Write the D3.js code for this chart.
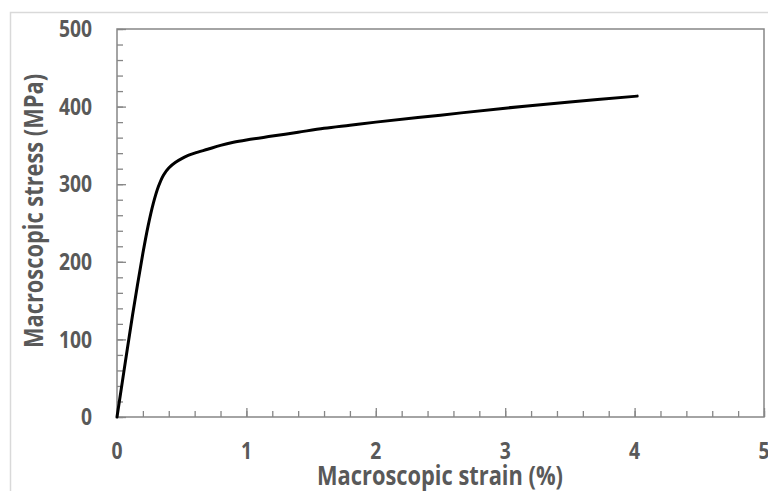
<!DOCTYPE html>
<html>
<head>
<meta charset="utf-8">
<script src="https://cdn.jsdelivr.net/npm/d3@7"></script>
<style>
  body { margin: 0; background: #fff; }
  text { font-family: "Open Sans", sans-serif; font-weight: bold; fill: #595959; }
</style>
</head>
<body>
<div id="main"></div>
<script>
// strain (%) vs stress (MPa)
const strain = [0, 0.04, 0.08, 0.12, 0.16, 0.2, 0.24, 0.28, 0.32, 0.36, 0.4, 0.45, 0.5, 0.55, 0.6, 0.7, 0.8, 0.9, 1.0, 1.2, 1.4, 1.6, 1.8, 2.0, 2.5, 3.0, 3.5, 4.02]
const stress = [0, 44, 88, 131, 172, 211, 246, 275, 297, 312, 321, 328, 333, 337, 340, 345, 350, 354, 357, 362, 367, 372, 376, 380, 389, 398, 406, 413.5]

const xTicks = [0, 1, 2, 3, 4, 5]
const yTicks = [0, 100, 200, 300, 400, 500]

const width = 768, height = 491
const margin = {left: 117, right: 4, top: 29, bottom: 74}
const squeeze = 0.84   // narrow the glyphs a bit, the original face is condensed

const svg = d3.select('#main').append('svg')
    .attr('width', width)
    .attr('height', height)

// light outer chart border
svg.append('path')
    .attr('d', 'M10.5,' + height + 'V12.5H' + width)
    .attr('fill', 'none')
    .attr('stroke', '#d9d9d9')
    .attr('stroke-width', 1.5)

const x = d3.scaleLinear().domain([0, 5]).range([margin.left, width - margin.right])
const y = d3.scaleLinear().domain([0, 500]).range([height - margin.bottom, margin.top])

const axisColor = '#868686'

// ticks, pointing inward
const xAxisMinor = d3.axisTop(x).tickValues(d3.range(0, 5.001, 0.2)).tickSize(6).tickFormat('')
const xAxisMajor = d3.axisTop(x).tickValues(xTicks).tickSize(9).tickFormat('')
const yAxisMinor = d3.axisRight(y).tickValues(d3.range(0, 500.1, 20)).tickSize(6).tickFormat('')
const yAxisMajor = d3.axisRight(y).tickValues(yTicks).tickSize(9).tickFormat('')

;[xAxisMinor, xAxisMajor].forEach(a => {
    svg.append('g').attr('transform', 'translate(0,' + y(0) + ')').call(a)
})
;[yAxisMinor, yAxisMajor].forEach(a => {
    svg.append('g').attr('transform', 'translate(' + x(0) + ',0)').call(a)
})
svg.selectAll('.tick line').attr('stroke', axisColor).attr('stroke-width', 1.3)
svg.selectAll('.domain').remove()

// frame
svg.append('rect')
    .attr('x', x(0)).attr('y', y(500))
    .attr('width', x(5) - x(0)).attr('height', y(0) - y(500))
    .attr('fill', 'none')
    .attr('stroke', axisColor)
    .attr('stroke-width', 1.5)

// tick labels
svg.append('g').selectAll('text')
    .data(yTicks).enter().append('text')
    .attr('transform', d => 'translate(' + (x(0) - 25) + ',' + y(d) + ') scale(' + squeeze + ',1)')
    .attr('dy', '0.36em')
    .attr('text-anchor', 'end')
    .style('font-size', '23px')
    .text(d => d)

svg.append('g').selectAll('text')
    .data(xTicks).enter().append('text')
    .attr('transform', d => 'translate(' + x(d) + ',' + (y(0) + 42) + ') scale(' + squeeze + ',1)')
    .attr('text-anchor', 'middle')
    .style('font-size', '23px')
    .text(d => d)

// axis titles
svg.append('text')
    .attr('transform', 'translate(440,485) scale(' + squeeze + ',1)')
    .attr('text-anchor', 'middle')
    .style('font-size', '26px')
    .text('Macroscopic strain (%)')

svg.append('text')
    .attr('transform', 'translate(43,211) rotate(-90) scale(' + squeeze + ',1)')
    .attr('text-anchor', 'middle')
    .style('font-size', '26px')
    .text('Macroscopic stress (MPa)')

// curve
const line = d3.line()
    .x((d, i) => x(strain[i]))
    .y(d => y(d))
    .curve(d3.curveCatmullRom.alpha(0.5))

svg.append('path')
    .datum(stress)
    .attr('d', line)
    .attr('fill', 'none')
    .attr('stroke', '#000')
    .attr('stroke-width', 3)
    .attr('stroke-linecap', 'round')
</script>
</body>
</html>
